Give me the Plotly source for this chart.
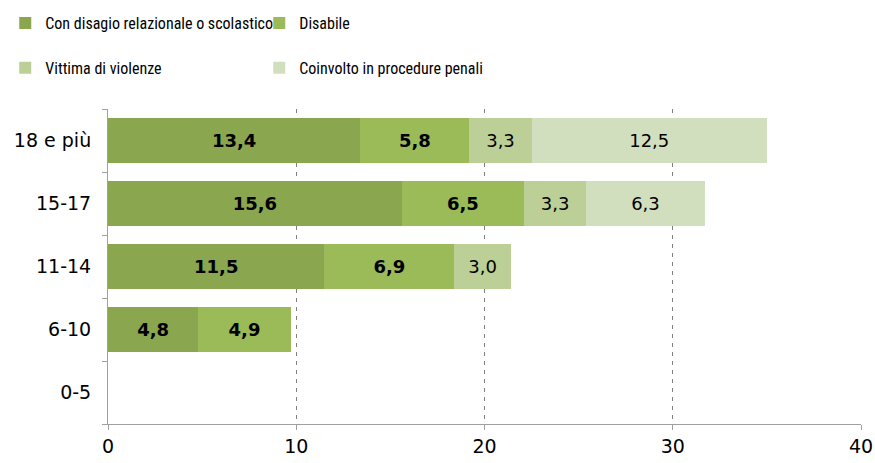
import plotly.graph_objects as go

categories = ["0-5", "6-10", "11-14", "15-17", "18 e più"]
series_names = ["Con disagio relazionale o scolastico", "Disabile",
                "Vittima di violenze", "Coinvolto in procedure penali"]
disagio = [None, 4.8, 11.5, 15.6, 13.4]
disabile = [None, 4.9, 6.9, 6.5, 5.8]
vittima = [None, None, 3.0, 3.3, 3.3]
coinvolto = [None, None, None, 6.3, 12.5]
x_ticks = [0, 10, 20, 30, 40]

colors = ["#8AA64F", "#9BBB59", "#BBCF96", "#D2DFBF"]
LEG_FONT = "Roboto Condensed, Liberation Sans Narrow, Roboto, sans-serif"
NUM_FONT = "DejaVu Sans, Verdana, sans-serif"

fig = go.Figure()
all_vals = [disagio, disabile, vittima, coinvolto]
legends = ["legend", "legend", "legend2", "legend2"]
for i, (name, vals) in enumerate(zip(series_names, all_vals)):
    bold = i < 2
    fig.add_trace(go.Bar(
        y=categories, x=vals, name=name, orientation="h",
        marker=dict(color=colors[i], line=dict(width=0)),
        texttemplate="%{x:.1f}",
        textposition="inside", insidetextanchor="middle",
        textfont=dict(size=18 if bold else 19, color="black", family=NUM_FONT,
                      weight="bold" if bold else "normal"),
        legend=legends[i],
        hoverinfo="skip",
    ))

leg_common = dict(orientation="h", xref="container", yref="container",
                  xanchor="left", yanchor="top",
                  entrywidth=209, entrywidthmode="pixels",
                  font=dict(size=16, family=LEG_FONT, color="black"),
                  traceorder="normal", bgcolor="rgba(0,0,0,0)")

fig.update_layout(
    width=875, height=463,
    barmode="stack", bargap=0.28,
    separators=",.",
    plot_bgcolor="white", paper_bgcolor="white",
    margin=dict(l=108, r=14, t=109, b=39, autoexpand=False),
    font=dict(family=NUM_FONT, size=19, color="black"),
    uniformtext=dict(minsize=10, mode="show"),
    legend=dict(x=0.006, y=0.987, **leg_common),
    legend2=dict(x=0.006, y=0.89, **leg_common),
)
fig.update_xaxes(range=[0, 40], tickvals=x_ticks, showgrid=True,
                 gridcolor="#808080", griddash="4px,5px", gridwidth=1,
                 showline=True, linecolor="#A0A0A0", linewidth=1,
                 ticks="outside", ticklen=5, tickcolor="#A0A0A0",
                 tickfont=dict(size=19, color="black", family=NUM_FONT),
                 zeroline=False, automargin=False)
fig.update_yaxes(categoryorder="array", categoryarray=categories,
                 showline=True, linecolor="#A0A0A0", linewidth=1,
                 ticks="outside", ticklen=5, tickcolor="#A0A0A0",
                 tickson="boundaries", showgrid=False,
                 tickfont=dict(size=19, color="black", family=NUM_FONT),
                 ticklabelstandoff=12, automargin=False)

fig.write_html("out.html",
               config={"displayModeBar": False},
               post_script="document.body.style.margin='0';"
                           "document.body.style.overflow='hidden';")
